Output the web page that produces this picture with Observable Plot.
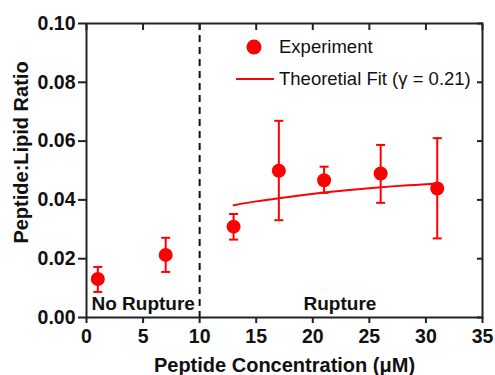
<!DOCTYPE html>
<html><head><meta charset="utf-8">
<script src="https://cdn.jsdelivr.net/npm/d3@7"></script>
<script src="https://cdn.jsdelivr.net/npm/@observablehq/plot@0.6"></script>
<style>
body{margin:0;background:#fff;font-family:"Liberation Sans",Arial,sans-serif;}
#wrap{position:relative;width:495px;height:375px;}
#legend{position:absolute;left:232px;top:31px;font-size:18.5px;color:#111;}
#legend div{display:flex;align-items:center;height:32px;}
#legend svg{width:44px;height:20px;margin-right:3px;}
</style></head>
<body><div id="wrap"><div id="legend"></div></div>
<script>
const concentration = [1, 7, 13, 17, 21, 26, 31];
const ratio = [0.0131, 0.0213, 0.0309, 0.0499, 0.0467, 0.0490, 0.0439];
const errLow = [0.0087, 0.0155, 0.0265, 0.0331, 0.0424, 0.0390, 0.0269];
const errHigh = [0.0172, 0.0271, 0.0352, 0.0669, 0.0513, 0.0587, 0.0610];
const fitX = [13, 15, 17, 19, 21, 23, 25, 27, 29, 31];
const fitY = [0.0382, 0.0395, 0.0406, 0.0416, 0.0425, 0.0433, 0.0440, 0.0446, 0.0451, 0.0456];
const xTicks = [0, 5, 10, 15, 20, 25, 30, 35];
const yTicks = [0, 0.02, 0.04, 0.06, 0.08, 0.10];
const threshold = [10];
const leftLabel = ["No Rupture"];
const rightLabel = ["Rupture"];
const xTitle = "Peptide Concentration (\u03bcM)";
const yTitle = "Peptide:Lipid Ratio";

const pts = concentration.map((x, i) => ({x, y: ratio[i], lo: errLow[i], hi: errHigh[i]}));
const fit = fitX.map((x, i) => ({x, y: fitY[i]}));
const red = "#ff0000";
const ink = "#111";
const cap = {draw(ctx, size) { const w = 4.5; ctx.moveTo(-w, 0); ctx.lineTo(w, 0); }};

const chart = Plot.plot({
  width: 495, height: 375,
  marginLeft: 86, marginRight: 13, marginTop: 23, marginBottom: 58,
  style: {fontFamily: "'Liberation Sans', Arial, sans-serif", fontSize: "19.5px", fontWeight: "bold", color: ink},
  x: {domain: [0, 35]},
  y: {domain: [0, 0.1]},
  marks: [
    Plot.ruleX(threshold, {stroke: ink, strokeWidth: 2, strokeDasharray: "7,5"}),
    Plot.ruleX(pts, {x: "x", y1: "lo", y2: "hi", stroke: red, strokeWidth: 2}),
    Plot.dot(pts, {x: "x", y: "lo", symbol: cap, stroke: red, strokeWidth: 2, r: 4}),
    Plot.dot(pts, {x: "x", y: "hi", symbol: cap, stroke: red, strokeWidth: 2, r: 4}),
    Plot.line(fit, {x: "x", y: "y", stroke: red, strokeWidth: 2, curve: "natural"}),
    Plot.dot(pts, {x: "x", y: "y", fill: red, r: 7}),
    Plot.text(leftLabel, {x: 0, y: 0, text: d => d, textAnchor: "start", dx: 5, dy: -14, fontSize: 19, fontWeight: "bold", fill: ink}),
    Plot.text(rightLabel, {x: 22.4, y: 0, text: d => d, textAnchor: "middle", dy: -14, fontSize: 19, fontWeight: "bold", fill: ink}),
    Plot.frame({stroke: "#222", strokeWidth: 2}),
    Plot.axisX({ticks: xTicks, tickSize: 6, tickPadding: 6, tickFormat: d => d, label: null, fontSize: 19.5, stroke: "#222", strokeWidth: 2}),
    Plot.axisX({anchor: "top", ticks: xTicks, tickSize: -6, tickFormat: () => "", label: null, stroke: "#222", strokeWidth: 2}),
    Plot.axisY({ticks: yTicks, tickSize: 8, tickPadding: 3, tickFormat: d3.format(".2f"), label: null, fontSize: 19.5, stroke: "#222", strokeWidth: 2}),
    Plot.axisY({anchor: "right", ticks: yTicks, tickSize: -6, tickFormat: () => "", label: null, stroke: "#222", strokeWidth: 2}),
    Plot.text([xTitle], {frameAnchor: "bottom", text: d => d, textAnchor: "middle", dy: 54, fontSize: 20, fontWeight: "bold", fill: ink}),
    Plot.text([yTitle], {frameAnchor: "left", text: d => d, textAnchor: "middle", rotate: -90, dx: -65, dy: -18, fontSize: 20, fontWeight: "bold", fill: ink})
  ]
});
document.getElementById("wrap").prepend(chart);

const legendItems = [
  {label: "Experiment", sym: `<circle cx="22" cy="10" r="7.5" fill="${red}"/>`},
  {label: "Theoretial Fit (\u03b3 = 0.21)", sym: `<line x1="4" x2="42" y1="10" y2="10" stroke="${red}" stroke-width="2"/>`}
];
document.getElementById("legend").innerHTML = legendItems.map(d => `<div><svg>${d.sym}</svg><span>${d.label}</span></div>`).join("");
</script></body></html>
